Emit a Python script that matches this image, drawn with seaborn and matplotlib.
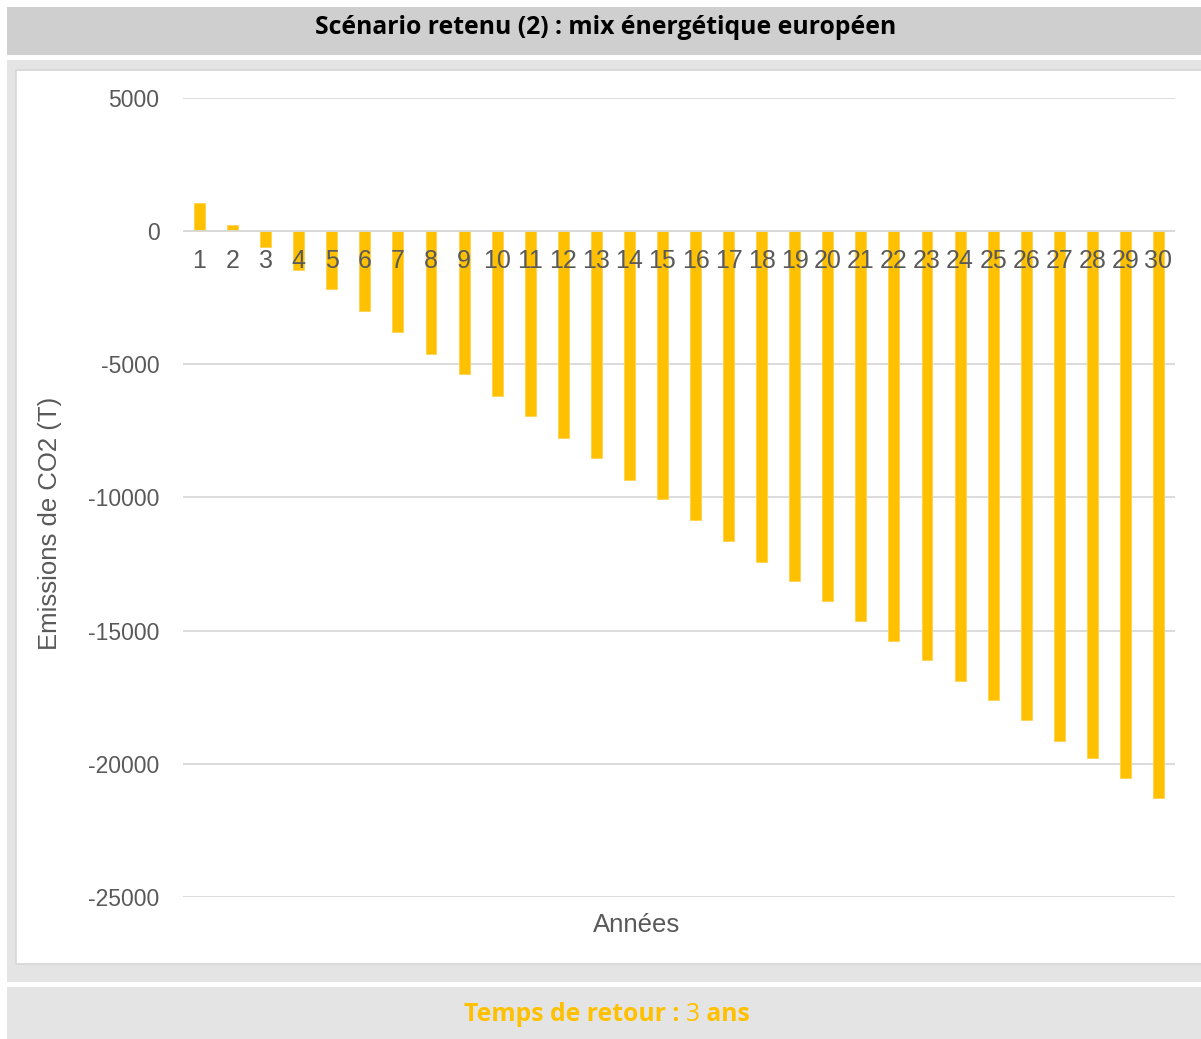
import matplotlib
matplotlib.use("Agg")
import matplotlib.pyplot as plt
from matplotlib.patches import Rectangle
import seaborn as sns
import pandas as pd

# Yearly cumulative CO2 balance (tonnes)
years = list(range(1, 31))
emissions = [1050, 230, -610, -1440, -2180, -3000, -3790, -4620, -5370, -6190,
             -6940, -7770, -8520, -9350, -10060, -10850, -11640, -12430, -13140, -13890,
             -14640, -15390, -16100, -16890, -17600, -18360, -19140, -19780, -20530, -21280]
y_ticks = [5000, 0, -5000, -10000, -15000, -20000, -25000]

title = "Scénario retenu (2) : mix énergétique européen"
x_label = "Années"
y_label = "Emissions de CO2 (T)"

sns.set_theme(style="white")
plt.rcParams["font.family"] = ["Liberation Sans", "DejaVu Sans"]

W, H = 1201, 1039
fig = plt.figure(figsize=(W / 100, H / 100), dpi=100)
fig.patch.set_facecolor("white")


def px_rect(x0, y0, x1, y1, **kw):
    fig.patches.append(Rectangle((x0 / W, 1 - y1 / H), (x1 - x0) / W, (y1 - y0) / H,
                                 transform=fig.transFigure, figure=fig, zorder=-10, **kw))


# banners and chart frame
px_rect(7, 7, 1201, 55, facecolor="#d0cfd0", edgecolor="none")
px_rect(7, 60, 1201, 982, facecolor="#e4e4e4", edgecolor="none")
px_rect(16, 70, 1203, 964, facecolor="white", edgecolor="#d6d6d6", linewidth=1.2)
px_rect(7, 987, 1201, 1039, facecolor="#e4e4e4", edgecolor="none")

ax = fig.add_axes([183 / W, 1 - 897 / H, (1175 - 183) / W, (897 - 98) / H])
ax.set_facecolor("none")

df = pd.DataFrame({"year": years, "co2": emissions})
sns.barplot(data=df, x="year", y="co2", color="#FFC000", saturation=1,
            width=0.33, ax=ax, zorder=3, edgecolor="#ffd24d", linewidth=0.6)

ax.set_ylim(-25000, 5000)
ax.set_xlim(-0.5, len(years) - 0.5)
ax.set_yticks(y_ticks)
ax.set_yticklabels([str(v) for v in y_ticks])
ax.yaxis.grid(True, color="#d9d9d9", linewidth=1.3, zorder=0)
ax.set_axisbelow(True)
ax.axhline(0, color="#d9d9d9", linewidth=1.3, zorder=4)
for side in ["top", "right", "left", "bottom"]:
    ax.spines[side].set_visible(False)
ax.tick_params(axis="x", length=0, labelbottom=False)
ax.tick_params(axis="y", length=0, pad=17, labelsize=16.5, labelcolor="#595959")
ax.set_xlabel("")
ax.set_ylabel("")

# category labels sit just under the zero line, drawn over the bars
for i, yr in enumerate(years):
    ax.annotate(str(yr), xy=(i, 0), xytext=(0, -13), textcoords="offset points",
                ha="center", va="top", fontsize=18, color="#595959", zorder=5)

fig.text(637 / W, 1 - 925 / H, x_label, ha="center", va="center",
         fontsize=18.5, color="#595959")
fig.text(50 / W, 1 - 523 / H, y_label, ha="center", va="center",
         rotation=90, fontsize=18.5, color="#595959")

fig.text(606 / W, 1 - 34 / H, title, ha="center", va="baseline",
         fontsize=17.8, fontweight="bold", color="black", family="Open Sans")

# footer with mixed weights, centred as a whole
orange = "#FFC000"
parts = [("Temps de retour : ", "bold"), ("3", "normal"), (" ans", "bold")]
texts = []
for s, w in parts:
    t = fig.text(0, 1 - 1021 / H, s, ha="left", va="baseline", fontsize=17.8,
                 fontweight=w, color=orange, family="Open Sans")
    texts.append(t)
fig.canvas.draw()
r = fig.canvas.get_renderer()
widths = [t.get_window_extent(r).width for t in texts]
total = sum(widths)
start = 607 - total / 2
for t, wdt in zip(texts, widths):
    t.set_x(start / W)
    start += wdt

fig.savefig("out.png", dpi=100)
